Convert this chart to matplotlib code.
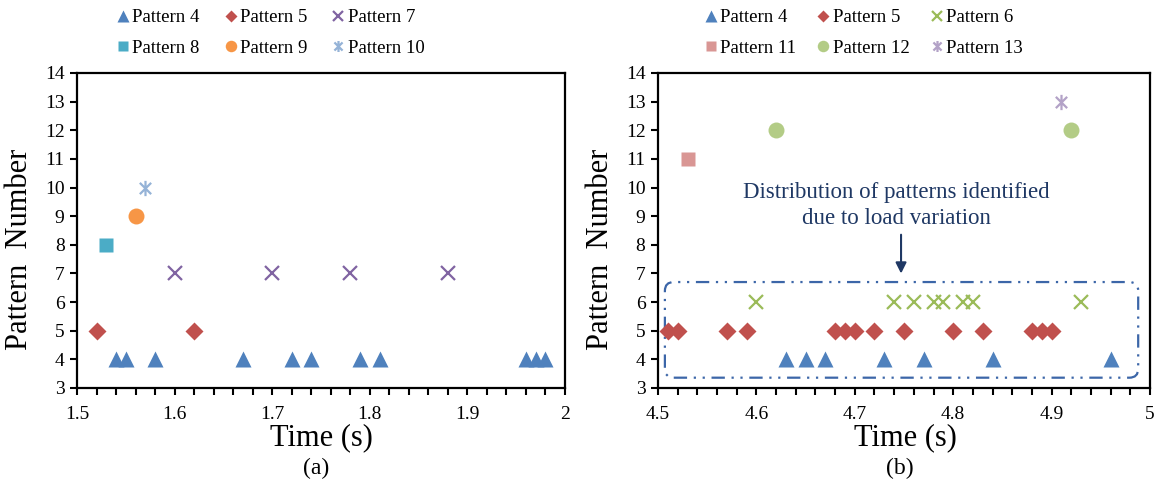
import matplotlib
matplotlib.use("Agg")
import matplotlib.pyplot as plt
from matplotlib.path import Path
from matplotlib.patches import FancyBboxPatch
from matplotlib.ticker import MultipleLocator, FuncFormatter

plt.rcParams['font.family'] = ['Liberation Serif', 'DejaVu Serif']

# === Data: panel (a) ===
a_p4_t = [1.54, 1.55, 1.58, 1.67, 1.72, 1.74, 1.79, 1.81, 1.96, 1.97, 1.98]
a_p5_t = [1.52, 1.62]
a_p7_t = [1.60, 1.70, 1.78, 1.88]
a_p8_t = [1.53]
a_p9_t = [1.56]
a_p10_t = [1.57]

# === Data: panel (b) ===
b_p4_t = [4.63, 4.65, 4.67, 4.73, 4.77, 4.84, 4.96]
b_p5_t = [4.51, 4.52, 4.57, 4.59, 4.68, 4.69, 4.70, 4.72, 4.75, 4.80,
          4.83, 4.88, 4.89, 4.90]
b_p6_t = [4.60, 4.74, 4.76, 4.78, 4.79, 4.81, 4.82, 4.93]
b_p11_t = [4.53]
b_p12_t = [4.62, 4.92]
b_p13_t = [4.91]

# asterisk marker (x with a vertical bar)
star = Path([(-1, -1), (1, 1), (-1, 1), (1, -1), (0, -1.35), (0, 1.35)],
            [Path.MOVETO, Path.LINETO, Path.MOVETO, Path.LINETO,
             Path.MOVETO, Path.LINETO])

# pattern number -> (marker, colour, size, edge width)
styles = {
    4: ('^', '#4F81BD', 12, 0),
    5: ('D', '#C0504D', 9, 0),
    6: ('x', '#9BBB59', 10.5, 1.6),
    7: ('x', '#8064A2', 10.5, 1.6),
    8: ('s', '#4BACC6', 9.5, 0),
    9: ('o', '#F79646', 11.5, 0),
    10: (star, '#95B3D7', 11, 1.6),
    11: ('s', '#D99694', 9.5, 0),
    12: ('o', '#B3CC86', 11.5, 0),
    13: (star, '#B3A2C7', 11, 1.6),
}


def draw(ax, num, times):
    m, c, ms, mew = styles[num]
    if mew:
        ax.plot(times, [num] * len(times), ls='none', marker=m, ms=ms,
                color=c, mew=mew, label=f"Pattern {num}", clip_on=False)
    else:
        ax.plot(times, [num] * len(times), ls='none', marker=m, ms=ms,
                color=c, mec='none', label=f"Pattern {num}", clip_on=False)


def style_axes(ax, x0, x1):
    ax.set_xlim(x0, x1)
    ax.set_ylim(3, 14)
    ax.xaxis.set_major_locator(MultipleLocator(0.1))
    ax.xaxis.set_minor_locator(MultipleLocator(0.02))
    ax.yaxis.set_major_locator(MultipleLocator(1))
    ax.xaxis.set_major_formatter(FuncFormatter(lambda v, p: f"{v:g}"))
    ax.tick_params(axis='both', which='major', direction='out', length=5,
                   width=1.5, labelsize=14, pad=4)
    ax.tick_params(axis='x', which='minor', direction='out', length=5,
                   width=1.5)
    ax.tick_params(axis='x', which='major', pad=8)
    for s in ax.spines.values():
        s.set_linewidth(1.6)
        s.set_color('black')
    ax.set_ylabel("Pattern  Number", fontsize=22)
    ax.yaxis.set_label_coords(-0.088, 0.44)


fig = plt.figure(figsize=(11.57, 4.9), dpi=100)
ax1 = fig.add_axes([77 / 1157, 102 / 490, 488 / 1157, 315 / 490])
ax2 = fig.add_axes([658 / 1157, 102 / 490, 492 / 1157, 315 / 490])

for num, t in [(4, a_p4_t), (5, a_p5_t), (7, a_p7_t), (8, a_p8_t),
               (9, a_p9_t), (10, a_p10_t)]:
    draw(ax1, num, t)
for num, t in [(4, b_p4_t), (5, b_p5_t), (6, b_p6_t), (11, b_p11_t),
               (12, b_p12_t), (13, b_p13_t)]:
    draw(ax2, num, t)

style_axes(ax1, 1.5, 2.0)
style_axes(ax2, 4.5, 5.0)

# legends, rows filled left to right
for ax, x_left, cs in [(ax1, 105 / 1157, 1.3), (ax2, 693 / 1157, 1.1)]:
    h, l = ax.get_legend_handles_labels()
    order = [0, 3, 1, 4, 2, 5]
    fig.legend([h[i] for i in order], [l[i] for i in order],
               loc='upper left', bbox_to_anchor=(x_left, 1.004),
               ncol=3, frameon=False, fontsize=13.5,
               handlelength=0.7, handletextpad=0.15,
               columnspacing=cs, labelspacing=0.72,
               borderaxespad=0.2, markerscale=0.72)

# dashed rounded box around the load variation cluster
px_x = 980.0   # px per x unit
px_y = 28.6    # px per y unit
box = FancyBboxPatch((4.507, 3.36), 4.988 - 4.507, 6.70 - 3.36,
                     boxstyle="round,pad=0,rounding_size=0.009",
                     mutation_aspect=px_x / px_y,
                     fill=False, ec='#3C66A8', lw=1.6,
                     ls=(0, (6, 3, 1, 3, 1, 3)), clip_on=False)
ax2.add_patch(box)

ax2.annotate("", xy=(4.747, 6.9), xytext=(4.747, 8.45),
             arrowprops=dict(arrowstyle='-|>', color='#1F3864', lw=1.5,
                             mutation_scale=16))
ax2.text(4.742, 9.38, "Distribution of patterns identified\ndue to load variation",
         ha='center', va='center', fontsize=16.5, color='#1F3864',
         linespacing=1.3)

# axis titles and captions
fig.text(321 / 1157, 1 - 438 / 490, "Time (s)", ha='center', va='center',
         fontsize=22)
fig.text(905 / 1157, 1 - 438 / 490, "Time (s)", ha='center', va='center',
         fontsize=22)
fig.text(316 / 1157, 1 - 468 / 490, "(a)", ha='center', va='center',
         fontsize=17)
fig.text(900 / 1157, 1 - 468 / 490, "(b)", ha='center', va='center',
         fontsize=17)

fig.savefig("out.png", dpi=100)
